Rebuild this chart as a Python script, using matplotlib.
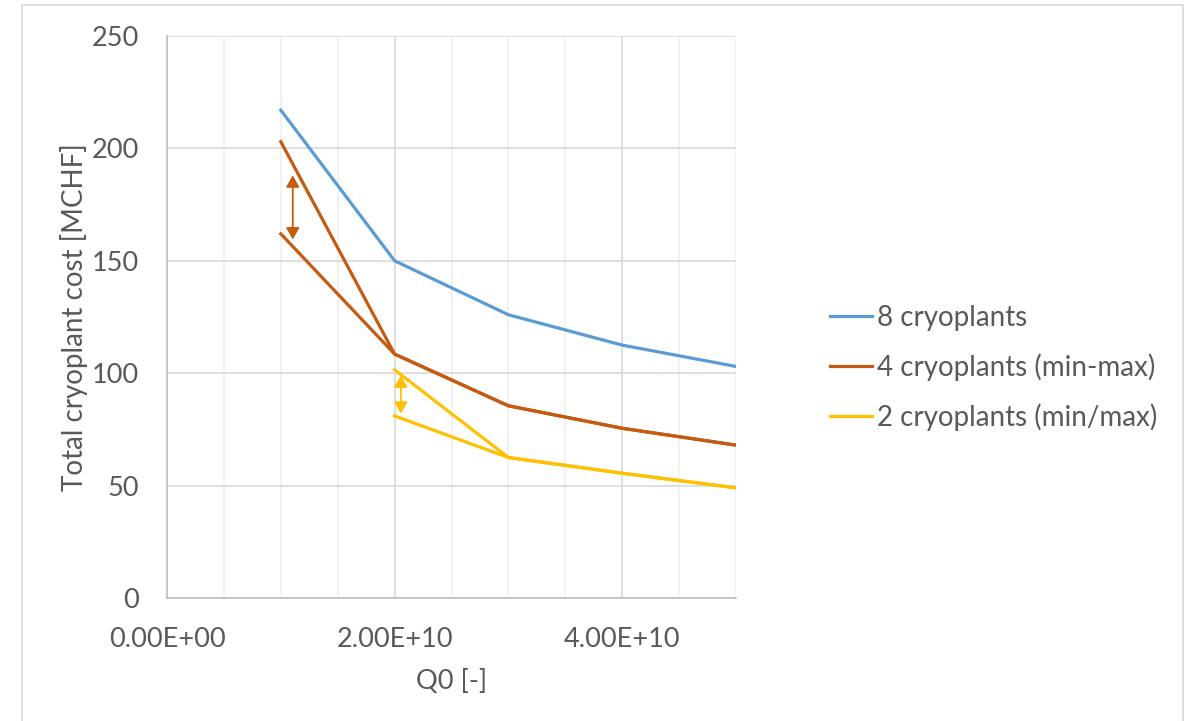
import matplotlib.pyplot as plt
from matplotlib.patches import Rectangle

plt.rcParams['font.family'] = ['Lato', 'DejaVu Sans']

# data
q0 = [1e10, 2e10, 3e10, 4e10, 5e10]
cost_8 = [217, 150, 126, 112.5, 103]
cost_4_max = [203, 108.5, 85.5, 75.5, 68]
cost_4_min = [162, 108.5, 85.5, 75.5, 68]
q0_2 = [2e10, 3e10, 4e10, 5e10]
cost_2_max = [101.5, 62.5, 55.5, 49]
cost_2_min = [81, 62.5, 55.5, 49]

arrow_4_x, arrow_4_y = 1.105e10, (188, 159.5)
arrow_2_x, arrow_2_y = 2.055e10, (99, 82)

labels = ["8 cryoplants", "4 cryoplants (min-max)", "2 cryoplants (min/max)"]
xticks = [0, 2e10, 4e10]
xticklabels = ["0.00E+00", "2.00E+10", "4.00E+10"]
yticks = [0, 50, 100, 150, 200, 250]

blue, orange, yellow = "#5B9BD5", "#C55A11", "#FFC000"
txt = "#595959"

fig = plt.figure(figsize=(11.88, 7.21), dpi=100)
fig.patches.append(Rectangle((22 / 1188, -0.01), (1183 - 22) / 1188, 1 - 5 / 721 + 0.01,
                             transform=fig.transFigure, fill=False, ec="#d9d9d9", lw=1.2))
ax = fig.add_axes([167 / 1188, 1 - 598 / 721, (736 - 167) / 1188, (598 - 36) / 721])

lw = 2.3
ax.plot(q0, cost_8, color=blue, lw=lw, label=labels[0], zorder=3)
ax.plot(q0, cost_4_max, color=orange, lw=lw, label=labels[1], zorder=3)
ax.plot(q0, cost_4_min, color=orange, lw=lw, zorder=3)
ax.plot(q0_2, cost_2_max, color=yellow, lw=lw, label=labels[2], zorder=3)
ax.plot(q0_2, cost_2_min, color=yellow, lw=lw, zorder=3)

for x, (y1, y2), c in [(arrow_4_x, arrow_4_y, orange), (arrow_2_x, arrow_2_y, yellow)]:
    ax.annotate("", xy=(x, y1), xytext=(x, y2),
                arrowprops=dict(arrowstyle="<|-|>,head_length=0.7,head_width=0.4", color=c, lw=1.3,
                                shrinkA=0, shrinkB=0), zorder=4)

ax.set_xlim(0, 5e10)
ax.set_ylim(0, 250)
ax.set_xticks(xticks)
ax.set_xticklabels(xticklabels)
ax.set_xticks([i * 0.5e10 for i in range(11)], minor=True)
ax.set_yticks(yticks)
ax.grid(True, which="major", color="#d9d9d9", lw=1.2)
ax.grid(True, which="minor", axis="x", color="#f0f0f0", lw=1.2)
ax.set_axisbelow(True)
for s in ["top", "right"]:
    ax.spines[s].set_visible(False)
for s in ["left", "bottom"]:
    ax.spines[s].set_color("#bfbfbf")
    ax.spines[s].set_linewidth(1.2)
ax.tick_params(which="both", length=0, labelsize=19.5, colors=txt)
ax.tick_params(axis="x", pad=21)
ax.tick_params(axis="y", pad=20)

ax.set_xlabel("Q0 [-]", fontsize=19.5, color=txt, labelpad=12)
ax.set_ylabel("Total cryoplant cost [MCHF]", fontsize=20, color=txt, labelpad=3)

leg = fig.legend(loc="center left", bbox_to_anchor=(805 / 1188, 1 - 368 / 721), frameon=False,
                 fontsize=20, handlelength=1.5, handletextpad=0.18, labelspacing=0.8, labelcolor=txt)

fig.savefig("out.png", dpi=100)
